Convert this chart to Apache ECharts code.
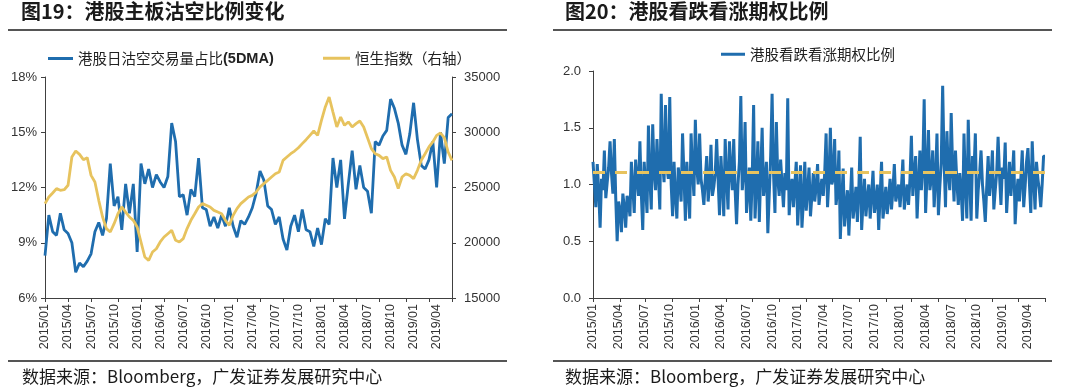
<!DOCTYPE html>
<html><head><meta charset="utf-8">
<script src="https://cdn.jsdelivr.net/npm/echarts@6/dist/echarts.min.js"></script>
<style>html,body{margin:0;padding:0;background:#fff}#c{width:1080px;height:391px}</style>
</head><body><div id="c"></div>
<script>
// Quarterly tick labels shown on both x axes
const quarterLabels = ['2015/01','2015/04','2015/07','2015/10','2016/01','2016/04','2016/07','2016/10',
  '2017/01','2017/04','2017/07','2017/10','2018/01','2018/04','2018/07','2018/10','2019/01','2019/04'];

// Fig.19: HK main board short-selling share (5DMA, %), 2 samples per month from 2015/01
const shortRatio = [8.3,10.5,9.6,9.4,10.6,9.7,9.5,9.0,7.4,7.9,
 7.7,8.0,8.4,9.6,10.1,9.4,10.3,13.3,11.0,11.5,
 9.7,12.2,10.6,12.2,8.5,13.3,12.2,13.0,12.0,12.7,
 12.3,12.0,12.6,15.5,14.5,11.5,11.6,10.5,11.9,11.5,
 13.6,10.9,10.8,9.9,10.4,9.8,10.5,9.9,10.9,9.9,
 9.3,10.2,10.0,10.4,10.9,11.7,12.9,12.4,11.0,10.8,
 10.0,10.4,9.2,8.6,9.9,10.5,9.6,10.8,9.7,9.6,
 8.8,9.8,8.9,10.3,10.0,13.6,12.0,13.5,10.3,12.2,
 14.0,11.9,13.2,12.0,11.8,10.6,14.5,14.3,14.8,15.1,
 16.8,16.3,15.5,14.3,13.8,14.9,16.6,14.6,13.2,13.0,
 13.5,14.5,12.0,15.0,13.3,15.8,16.0];

// Hang Seng Index (right axis), same sampling
const hsi = [23540,24140,24500,24900,24750,24800,25200,27760,28300,28000,
 27520,27700,26100,25500,23840,22330,21280,20970,21730,22630,
 23240,22780,22330,22030,21430,20070,18710,18410,19160,19460,
 20070,20520,20820,21120,20220,20070,20370,21280,22030,22630,
 23240,23540,23390,23240,22930,22780,22630,22030,21580,22480,
 23090,23540,23840,24140,24290,24590,25050,25350,25650,25950,
 26250,26400,27460,27760,28060,28300,28600,28970,29330,29720,
 30110,29720,31080,32290,33190,31830,30480,31380,30630,30930,
 30480,30780,31020,30480,29510,28520,28060,27910,27610,27760,
 26550,25950,24900,25950,26250,26100,25800,26550,27460,28060,
 28670,29120,29720,29930,29510,28210,27460];

// Fig.20: HK put/call ratio, 6 samples per month from 2015/01 (one row per month)
const putCall = [
 1.20,1.00,0.80,1.18,0.95,0.62,
 1.05,0.95,1.30,0.88,1.02,1.15,
 1.38,1.10,0.92,1.40,0.88,0.50,
 0.85,0.78,0.58,0.92,0.80,0.62,
 0.90,0.85,0.72,1.20,0.98,0.75,
 1.22,1.05,0.90,1.38,0.92,0.60,
 1.20,0.98,0.75,1.52,1.05,0.78,
 1.53,1.12,0.95,1.40,1.08,0.78,
 1.80,1.20,1.02,1.70,1.15,1.05,
 1.77,1.00,0.72,1.20,0.90,0.70,
 1.15,1.02,0.85,1.45,1.08,0.68,
 1.20,0.95,0.70,1.45,1.12,0.90,
 1.57,1.15,1.00,1.45,1.05,0.95,
 0.82,1.05,1.25,0.85,1.00,1.35,
 0.90,0.98,1.10,1.40,1.05,0.73,
 1.25,1.00,0.72,1.40,1.05,0.78,
 1.38,1.12,0.95,1.40,0.95,0.65,
 1.00,1.20,1.78,0.95,1.10,1.55,
 0.75,0.95,1.15,0.68,1.05,1.70,
 0.70,1.00,1.38,0.67,1.10,1.50,
 0.90,1.02,1.20,0.57,0.92,1.25,
 1.80,1.10,0.75,1.55,1.05,0.90,
 1.22,1.00,0.80,1.10,0.95,1.76,
 0.73,0.95,1.05,0.80,1.00,1.20,
 0.64,0.90,1.17,0.62,0.85,1.20,
 0.77,0.95,1.15,0.72,0.90,1.10,
 0.85,0.98,1.18,0.82,0.95,1.05,
 0.90,1.10,1.45,0.80,1.05,1.50,
 1.00,1.05,1.40,0.82,0.95,1.30,
 0.52,0.85,1.14,0.63,0.80,0.95,
 0.55,0.85,1.15,0.70,0.82,0.98,
 0.67,0.95,1.42,0.60,0.85,1.05,
 0.72,0.88,1.00,0.70,0.90,1.12,
 0.75,0.85,1.00,0.60,0.90,1.20,
 0.70,0.82,0.98,0.74,0.88,1.05,
 0.78,0.95,1.18,0.85,0.92,1.00,
 0.80,0.98,1.22,0.78,0.90,1.00,
 0.82,1.05,1.43,0.90,1.10,1.25,
 0.70,1.00,1.30,0.95,1.15,1.75,
 0.75,1.10,1.48,0.95,1.05,1.30,
 0.80,1.05,1.45,0.73,0.98,1.20,
 1.87,1.20,0.80,1.47,1.10,0.95,
 1.63,1.15,0.85,1.30,1.02,0.82,
 1.10,0.95,0.68,1.45,1.00,0.70,
 1.57,1.05,0.68,1.25,1.10,1.45,
 0.70,0.95,1.10,1.30,1.00,0.85,
 0.67,0.98,1.25,0.90,1.05,1.30,
 0.78,0.95,1.10,1.42,1.08,0.82,
 1.15,1.05,1.37,0.75,0.98,1.20,
 0.90,1.08,1.30,0.65,0.90,1.05,
 0.85,1.05,1.30,0.80,0.98,1.20,
 1.32,1.02,0.75,1.38,1.05,0.78,
 1.20,1.05,0.95,0.80,1.00,1.25,
 1.25];
const putCallAvg = 1.11;

const seriesNames = ['港股日沽空交易量占比(5DMA)', '恒生指数（右轴）', '港股看跌看涨期权比例'];

// build month-sampled category lists
const months = [];
for (let y = 2015; y <= 2019; y++) for (let m = 1; m <= 12; m++) months.push(y + '/' + String(m).padStart(2, '0'));
function buildCats(perMonth, n) {
  const out = [];
  for (let i = 0; i < n; i++) out.push(months[Math.floor(i / perMonth)] + '#' + (i % perMonth + 1));
  return out;
}
const leftCats = buildCats(2, shortRatio.length);
const rightCats = buildCats(6, putCall.length);
function tickSet(n) { const s = new Set(); for (let k = 0; k <= 17; k++) s.add(Math.round(k * (n - 1) / 17)); return s; }
const leftTicks = tickSet(leftCats.length), rightTicks = tickSet(rightCats.length);

const BLUE = '#1F6DAE', GOLD = '#E7C35E', AX = '#404040', TXT = '#333';
const CJK = "'Noto Sans CJK SC', sans-serif", LAT = "'Liberation Sans', Arial, sans-serif";

function xAxisCfg(gi, cats, ticks) {
  return {
    type: 'category', gridIndex: gi, data: cats, boundaryGap: false,
    axisLine: { lineStyle: { color: AX, width: 1 } },
    axisTick: { show: true, length: 4, lineStyle: { color: AX }, interval: (i) => ticks.has(i) },
    axisLabel: {
      rotate: 90, margin: 6, fontSize: 12.5, color: TXT, fontFamily: LAT,
      interval: (i, v) => v.endsWith('#1') && quarterLabels.includes(v.slice(0, 7)),
      formatter: (v) => v.slice(0, 7)
    },
    splitLine: { show: false }
  };
}

const chart = echarts.init(document.getElementById('c'), null, { renderer: 'canvas' });
const legendText = { fontSize: 14.5, color: '#222', fontFamily: CJK,
  rich: { b: { fontSize: 14.5, fontWeight: 'bold', fontFamily: LAT, color: '#222' } } };

chart.setOption({
  animation: false,
  backgroundColor: '#fff',
  grid: [
    { left: 45, top: 77, width: 407, height: 221 },
    { left: 593, top: 71, width: 452, height: 227 }
  ],
  legend: [
    { data: [seriesNames[0]], left: 43, top: 46, icon: 'rect', itemWidth: 25, itemHeight: 3, itemGap: 0,
      textStyle: legendText, formatter: (n) => n.replace('(5DMA)', '{b|(5DMA)}') },
    { data: [seriesNames[1]], left: 318, top: 46, icon: 'rect', itemWidth: 27, itemHeight: 3, textStyle: legendText },
    { data: [seriesNames[2]], left: 716, top: 42, icon: 'rect', itemWidth: 24, itemHeight: 3, textStyle: legendText }
  ],
  xAxis: [xAxisCfg(0, leftCats, leftTicks), xAxisCfg(1, rightCats, rightTicks)],
  yAxis: [
    { type: 'value', gridIndex: 0, min: 6, max: 18, interval: 3,
      axisLine: { show: true, lineStyle: { color: AX } }, axisTick: { show: true, length: 4, lineStyle: { color: AX } },
      axisLabel: { formatter: '{value}%', color: TXT, fontSize: 13, fontFamily: LAT, margin: 8 }, splitLine: { show: false } },
    { type: 'value', gridIndex: 0, position: 'right', min: 15000, max: 35000, interval: 5000,
      axisLine: { show: true, lineStyle: { color: AX } }, axisTick: { show: true, length: 4, lineStyle: { color: AX } },
      axisLabel: { formatter: (v) => String(v), color: TXT, fontSize: 13, fontFamily: LAT, margin: 12 }, splitLine: { show: false } },
    { type: 'value', gridIndex: 1, min: 0, max: 2, interval: 0.5,
      axisLine: { show: true, lineStyle: { color: AX } }, axisTick: { show: true, length: 4, lineStyle: { color: AX } },
      axisLabel: { formatter: (v) => v.toFixed(1), color: TXT, fontSize: 13, fontFamily: LAT, margin: 12 }, splitLine: { show: false } }
  ],
  series: [
    { name: seriesNames[0], type: 'line', xAxisIndex: 0, yAxisIndex: 0, data: shortRatio, showSymbol: false,
      lineStyle: { color: BLUE, width: 2.8 }, itemStyle: { color: BLUE }, z: 2 },
    { name: seriesNames[1], type: 'line', xAxisIndex: 0, yAxisIndex: 1, data: hsi, showSymbol: false,
      lineStyle: { color: GOLD, width: 2.8 }, itemStyle: { color: GOLD }, z: 3 },
    { name: seriesNames[2], type: 'line', xAxisIndex: 1, yAxisIndex: 2, data: putCall, showSymbol: false,
      lineStyle: { color: BLUE, width: 3 }, itemStyle: { color: BLUE }, z: 2,
      markLine: { silent: true, symbol: ['none', 'none'], label: { show: false },
        lineStyle: { color: GOLD, type: [12, 10], width: 3 }, data: [{ yAxis: putCallAvg }] } }
  ],
  graphic: [
    { type: 'text', left: 21, top: 1, style: { text: '图19：港股主板沽空比例变化', font: "bold 20px 'Noto Sans CJK SC'", fill: '#1a1a1a' } },
    { type: 'text', left: 565, top: 1, style: { text: '图20：港股看跌看涨期权比例', font: "bold 20px 'Noto Sans CJK SC'", fill: '#1a1a1a' } },
    { type: 'line', shape: { x1: 8, y1: 30, x2: 507, y2: 30 }, style: { stroke: '#555', lineWidth: 2 } },
    { type: 'line', shape: { x1: 553, y1: 30, x2: 1052, y2: 30 }, style: { stroke: '#555', lineWidth: 2 } },
    { type: 'line', shape: { x1: 8, y1: 361, x2: 507, y2: 361 }, style: { stroke: '#555', lineWidth: 2 } },
    { type: 'line', shape: { x1: 553, y1: 361, x2: 1052, y2: 361 }, style: { stroke: '#555', lineWidth: 2 } },
    { type: 'text', left: 22, top: 368, style: { text: '数据来源：Bloomberg，广发证券发展研究中心', font: "17px 'Noto Sans CJK SC'", fill: '#1a1a1a' } },
    { type: 'text', left: 565, top: 368, style: { text: '数据来源：Bloomberg，广发证券发展研究中心', font: "17px 'Noto Sans CJK SC'", fill: '#1a1a1a' } }
  ]
});
</script>
</body></html>
